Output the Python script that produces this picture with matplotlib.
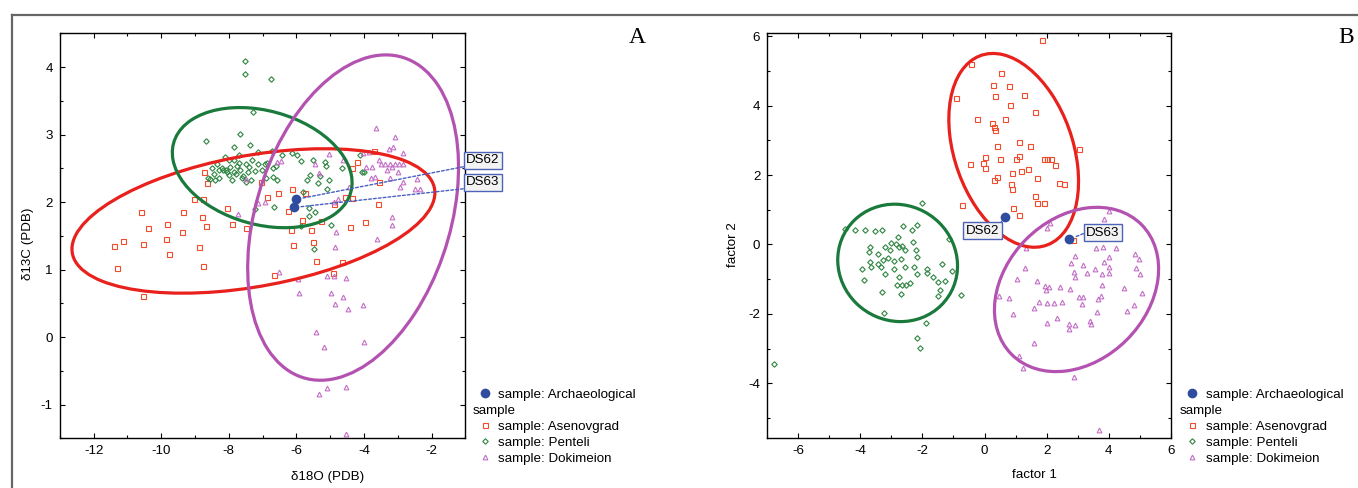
import numpy as np
import matplotlib
matplotlib.use('Agg')
import matplotlib.pyplot as plt
import matplotlib.transforms as mtransforms
from matplotlib.patches import Ellipse
from matplotlib.lines import Line2D
from matplotlib.ticker import MultipleLocator

plt.rcParams['font.family'] = ['Liberation Sans', 'DejaVu Sans']
plt.rcParams['axes.unicode_minus'] = False

# --- Panel A: isotopes (d18O, d13C) ---
a_ase = np.array([
    (-11.41, 1.35), (-11.13, 1.43), (-11.31, 1.02), (-10.59, 1.85), (-10.53, 0.61), (-10.39, 1.62),
    (-10.55, 1.38), (-9.83, 1.67), (-9.78, 1.23), (-9.87, 1.46), (-9.39, 1.56), (-9.34, 1.86),
    (-9.03, 2.04), (-8.75, 2.04), (-8.89, 1.34), (-8.80, 1.78), (-8.67, 1.65), (-8.77, 1.05),
    (-8.72, 2.45), (-8.63, 2.28), (-8.05, 1.91), (-7.89, 1.67), (-7.49, 1.62), (-7.04, 2.30),
    (-6.86, 2.08), (-6.54, 2.14), (-6.65, 0.92), (-6.25, 1.87), (-6.16, 1.59), (-6.13, 2.20),
    (-6.11, 1.37), (-5.83, 1.74), (-5.73, 2.13), (-5.56, 1.59), (-5.51, 1.41), (-5.42, 1.13),
    (-4.92, 0.95), (-4.88, 1.97), (-4.66, 1.11), (-4.55, 2.08), (-4.40, 1.63), (-4.36, 2.06),
    (-4.34, 2.51), (-4.21, 2.60), (-3.97, 1.71), (-3.71, 2.75), (-3.59, 1.97), (-3.54, 2.30),
    (-5.28, 1.72)])
a_pen = np.array([
    (-7.53, 4.09), (-7.53, 3.89), (-6.76, 3.83), (-7.27, 3.33), (-7.66, 3.01), (-8.66, 2.90),
    (-7.85, 2.82), (-7.36, 2.85), (-7.69, 2.69), (-8.11, 2.67), (-7.14, 2.74), (-6.73, 2.75),
    (-6.14, 2.73), (-5.97, 2.69), (-7.98, 2.62), (-7.49, 2.57), (-8.36, 2.56), (-8.49, 2.51),
    (-8.17, 2.47), (-8.04, 2.44), (-7.75, 2.54), (-7.66, 2.47), (-7.78, 2.41), (-7.91, 2.33),
    (-7.85, 2.45), (-8.30, 2.47), (-8.62, 2.35), (-8.56, 2.34), (-8.43, 2.42), (-7.62, 2.35),
    (-7.44, 2.44), (-7.21, 2.46), (-7.12, 2.57), (-7.01, 2.47), (-6.88, 2.58), (-6.69, 2.51),
    (-6.61, 2.54), (-6.56, 2.33), (-6.43, 2.69), (-5.86, 2.61), (-5.51, 2.62), (-5.30, 2.39),
    (-5.59, 2.40), (-5.69, 2.33), (-5.15, 2.59), (-5.12, 2.53), (-5.02, 2.33), (-4.66, 2.50),
    (-4.12, 2.70), (-4.06, 2.44), (-3.99, 2.45), (-5.10, 2.20), (-5.64, 1.91), (-5.46, 1.86),
    (-5.62, 1.79), (-6.65, 1.92), (-7.22, 1.89), (-4.96, 1.66), (-5.47, 1.30), (-5.86, 1.64),
    (-6.69, 2.37), (-6.92, 2.57), (-8.07, 2.47), (-7.33, 2.33), (-8.30, 2.35), (-8.20, 2.50),
    (-7.95, 2.52), (-7.70, 2.58), (-7.58, 2.38), (-7.40, 2.52), (-8.00, 2.40), (-7.85, 2.62),
    (-7.30, 2.62), (-8.40, 2.33), (-7.50, 2.30), (-6.90, 2.35), (-5.80, 2.15), (-5.35, 2.28)])
a_dok = np.array([
    (-3.63, 3.09), (-3.08, 2.97), (-3.13, 2.82), (-3.26, 2.78), (-2.84, 2.72), (-4.02, 2.72),
    (-5.02, 2.71), (-4.63, 2.62), (-5.44, 2.56), (-6.46, 2.61), (-6.56, 2.59), (-7.49, 2.34),
    (-3.76, 2.52), (-3.93, 2.52), (-3.48, 2.57), (-3.39, 2.57), (-3.22, 2.57), (-3.07, 2.56),
    (-2.96, 2.57), (-2.84, 2.56), (-3.31, 2.47), (-3.16, 2.52), (-3.79, 2.35), (-3.67, 2.37),
    (-3.22, 2.35), (-2.99, 2.45), (-2.84, 2.30), (-2.42, 2.34), (-2.94, 2.23), (-2.49, 2.19),
    (-2.33, 2.19), (-5.34, 2.43), (-4.44, 2.23), (-4.76, 2.04), (-4.89, 2.00), (-6.92, 2.00),
    (-7.12, 1.99), (-7.72, 1.83), (-3.16, 1.78), (-3.18, 1.66), (-3.61, 1.45), (-4.83, 1.56),
    (-4.85, 1.33), (-6.52, 0.97), (-5.95, 0.86), (-5.08, 0.91), (-4.89, 0.90), (-4.54, 0.88),
    (-5.92, 0.65), (-4.96, 0.65), (-4.63, 0.59), (-4.87, 0.49), (-4.47, 0.42), (-4.03, 0.48),
    (-5.43, 0.07), (-5.17, -0.15), (-4.01, -0.07), (-5.08, -0.75), (-4.54, -0.74), (-5.32, -0.84),
    (-4.54, -1.44), (-3.86, 2.74), (-3.54, 2.62)])
a_arch = np.array([(-6.01, 2.04), (-6.07, 1.92)])
a_arch_names = ['DS62', 'DS63']
a_label_pos = [(-0.48, 2.62), (-0.48, 2.29)]
# ellipse: centre x, centre y, half-extent x, half-extent y, correlation
a_ellipses = {'Asenovgrad': (-7.27, 1.72, 5.37, 1.07, 0.39),
              'Penteli': (-7.01, 2.51, 2.66, 0.89, -0.25),
              'Dokimeion': (-4.32, 1.77, 3.12, 2.41, 0.31)}

# --- Panel B: factor scores ---
b_ase = np.array([
    (1.84, 5.90), (-0.43, 5.21), (0.54, 4.94), (0.26, 4.59), (0.78, 4.56), (-0.91, 4.21),
    (0.33, 4.28), (1.28, 4.30), (0.82, 4.03), (1.63, 3.82), (-0.25, 3.61), (0.67, 3.61),
    (0.24, 3.50), (0.31, 3.37), (0.33, 3.31), (1.12, 2.94), (1.45, 2.84), (0.39, 2.84),
    (3.06, 2.74), (0.03, 2.51), (1.10, 2.56), (0.49, 2.45), (1.03, 2.45), (1.91, 2.45),
    (2.02, 2.45), (2.15, 2.45), (-0.04, 2.36), (-0.46, 2.32), (2.26, 2.29), (0.01, 2.21),
    (1.41, 2.16), (1.16, 2.11), (0.88, 2.07), (0.40, 1.95), (0.32, 1.85), (1.69, 1.90),
    (0.86, 1.73), (0.88, 1.60), (2.41, 1.76), (2.57, 1.73), (1.63, 1.40), (1.69, 1.20),
    (1.91, 1.20), (-0.71, 1.13), (0.93, 1.06), (1.10, 0.85), (2.86, 0.13)])
b_pen = np.array([
    (-6.77, -3.45), (-2.00, 1.20), (-4.48, 0.46), (-4.16, 0.43), (-3.84, 0.43), (-3.52, 0.40),
    (-3.29, 0.41), (-2.62, 0.53), (-2.34, 0.43), (-2.16, 0.56), (-2.79, 0.22), (-3.01, 0.05),
    (-2.86, 0.00), (-2.67, -0.05), (-2.30, 0.07), (-3.20, -0.08), (-3.70, -0.07), (-3.71, -0.23),
    (-3.42, -0.26), (-3.04, -0.16), (-2.76, -0.07), (-2.55, -0.16), (-2.20, -0.16), (-2.16, -0.35),
    (-3.11, -0.40), (-2.93, -0.47), (-2.69, -0.41), (-3.70, -0.50), (-3.43, -0.56), (-3.28, -0.45),
    (-3.95, -0.72), (-3.67, -0.64), (-3.35, -0.64), (-2.93, -0.72), (-2.55, -0.64), (-2.27, -0.64),
    (-1.86, -0.72), (-1.37, -0.55), (-1.05, -0.76), (-3.22, -0.85), (-2.76, -0.95), (-2.18, -0.85),
    (-1.86, -0.83), (-1.67, -0.95), (-3.87, -1.01), (-1.51, -1.07), (-1.27, -1.04), (-2.41, -1.10),
    (-2.83, -1.17), (-2.67, -1.17), (-2.53, -1.17), (-1.44, -1.31), (-3.29, -1.38), (-2.69, -1.43),
    (-1.49, -1.49), (-0.77, -1.44), (-3.25, -1.98), (-1.88, -2.27), (-2.18, -2.68), (-2.09, -2.97),
    (-1.13, 0.15)])
b_dok = np.array([
    (4.00, 0.97), (3.86, 0.73), (2.12, 0.63), (2.01, 0.48), (3.59, -0.09), (3.82, -0.07),
    (4.24, -0.11), (1.33, -0.11), (2.92, -0.32), (4.00, -0.35), (4.84, -0.28), (4.98, -0.43),
    (3.86, -0.50), (2.78, -0.53), (3.17, -0.59), (3.56, -0.72), (4.00, -0.66), (4.87, -0.69),
    (1.31, -0.67), (2.89, -0.78), (3.31, -0.83), (3.80, -0.85), (4.02, -0.83), (5.02, -0.86),
    (1.05, -0.99), (2.92, -0.95), (1.70, -1.04), (3.80, -1.17), (4.49, -1.24), (1.95, -1.20),
    (2.09, -1.22), (1.98, -1.31), (2.44, -1.22), (2.75, -1.29), (3.76, -1.49), (5.09, -1.39),
    (0.47, -1.49), (0.80, -1.53), (3.06, -1.50), (3.17, -1.50), (3.66, -1.57), (3.13, -1.70),
    (1.77, -1.65), (2.02, -1.68), (2.23, -1.68), (2.51, -1.67), (1.60, -1.84), (3.61, -1.94),
    (4.60, -1.92), (4.81, -1.75), (0.91, -2.01), (2.33, -2.11), (2.02, -2.25), (3.39, -2.20),
    (3.42, -2.30), (2.71, -2.30), (2.92, -2.32), (2.71, -2.44), (1.60, -2.85), (1.10, -3.21),
    (1.24, -3.57), (2.89, -3.81), (3.70, -5.34)])
b_arch = np.array([(0.66, 0.80), (2.73, 0.15)])
b_arch_names = ['DS62', 'DS63']
b_label_pos = [(-0.065, 0.40), (3.82, 0.345)]
b_ellipses = {'Asenovgrad': (0.94, 2.71, 2.09, 2.79, -0.32),
              'Penteli': (-2.80, -0.53, 1.93, 1.69, -0.05),
              'Dokimeion': (2.965, -1.295, 2.645, 2.365, 0.25)}

# --- Styles ---
FS = 9.6
marker_style = {
    'Archaeological': dict(marker='o', ms=7, mfc='#2f4c9f', mec='#2f4c9f', mew=0),
    'Asenovgrad': dict(marker='s', ms=3.6, mfc='none', mec='#ee4d2e', mew=0.8),
    'Penteli': dict(marker='D', ms=2.8, mfc='none', mec='#2e8540', mew=0.8),
    'Dokimeion': dict(marker='^', ms=3.4, mfc='none', mec='#c46fc6', mew=0.8),
}
ellipse_color = {'Asenovgrad': '#e8211d', 'Penteli': '#1a7a3c', 'Dokimeion': '#b352b0'}


def draw_ellipse(ax, params, color):
    cx, cy, sx, sy, r = params
    e = Ellipse((0, 0), width=2 * np.sqrt(1 + r), height=2 * np.sqrt(1 - r),
                facecolor='none', edgecolor=color, lw=2.3, zorder=3)
    tr = mtransforms.Affine2D().rotate_deg(45).scale(sx, sy).translate(cx, cy)
    e.set_transform(tr + ax.transData)
    ax.add_patch(e)


def plot_panel(ax, groups, ellipses, arch, names, label_pos, arrow_rel):
    handles = {}
    for name, pts in groups.items():
        h, = ax.plot(pts[:, 0], pts[:, 1], linestyle='none', zorder=2, **marker_style[name])
        handles[name] = h
    for name, par in ellipses.items():
        draw_ellipse(ax, par, ellipse_color[name])
    h, = ax.plot(arch[:, 0], arch[:, 1], linestyle='none', zorder=5, **marker_style['Archaeological'])
    handles['Archaeological'] = h
    for (x, y), nm, pos, rel in zip(arch, names, label_pos, arrow_rel):
        ax.annotate(nm, xy=(x, y), xytext=pos, textcoords='data', ha='center', va='center',
                    fontsize=FS, zorder=6, annotation_clip=False,
                    bbox=dict(boxstyle='square,pad=0.18', fc='#f3f3f3', ec='#4d63b8', lw=1.0),
                    arrowprops=dict(arrowstyle='-', ls=(0, (2, 1.5)), color='#4a5fc0', lw=1.0,
                                    relpos=rel, shrinkA=0, shrinkB=4))
    ax.tick_params(which='both', direction='in', top=True, right=True, labelsize=FS)
    ax.tick_params(which='major', length=3.5, width=0.8)
    ax.tick_params(which='minor', length=2.5, width=0.8)
    ax.tick_params(axis='x', pad=4.5)
    ax.tick_params(axis='y', pad=5)
    for s in ax.spines.values():
        s.set_linewidth(1.0)
    return handles


def add_legend(fig, ax, handles, left_px, top_px):
    order = ['Archaeological', None, 'Asenovgrad', 'Penteli', 'Dokimeion']
    hs, ls = [], []
    for o in order:
        if o is None:
            hs.append(Line2D([], [], linestyle='none'))
            ls.append('sample')
        else:
            hs.append(handles[o])
            ls.append('sample: ' + o)
    leg = ax.legend(hs, ls, loc='upper left', bbox_to_anchor=(left_px / W, 1 - top_px / H),
                    bbox_transform=fig.transFigure, frameon=False, fontsize=FS, borderpad=0,
                    borderaxespad=0, handlelength=0.6, handletextpad=0.75, labelspacing=0.27)
    t = leg.get_texts()[1]
    t.set_transform(t.get_transform() + mtransforms.ScaledTranslation(-26 / 100, 0, fig.dpi_scale_trans))
    return leg


W, H = 1358, 488
fig = plt.figure(figsize=(W / 100, H / 100), dpi=100)

# Panel A
axA = fig.add_axes([59.8 / W, 1 - 438.3 / H, 405.5 / W, 405 / H])
hA = plot_panel(axA, {'Asenovgrad': a_ase, 'Penteli': a_pen, 'Dokimeion': a_dok},
                a_ellipses, a_arch, a_arch_names, a_label_pos, [(0, 0), (0, 0)])
axA.set_xlim(-13, -1)
axA.set_ylim(-1.5, 4.5)
axA.set_xticks([-12, -10, -8, -6, -4, -2])
axA.set_yticks([-1, 0, 1, 2, 3, 4])
axA.xaxis.set_minor_locator(MultipleLocator(1))
axA.yaxis.set_minor_locator(MultipleLocator(0.5))
axA.set_xlabel('δ18O (PDB)', fontsize=FS, va='center')
axA.xaxis.set_label_coords(0.661, -0.095)
axA.set_ylabel('δ13C (PDB)', fontsize=FS, va='center')
axA.yaxis.set_label_coords(-0.078, 0.48)
add_legend(fig, axA, hA, 480.5, 388.5)

# Panel B
axB = fig.add_axes([767.3 / W, 1 - 438.3 / H, 403.4 / W, 405 / H])
hB = plot_panel(axB, {'Asenovgrad': b_ase, 'Penteli': b_pen, 'Dokimeion': b_dok},
                b_ellipses, b_arch, b_arch_names, b_label_pos, [(1, 1), (0, 0.5)])
axB.set_xlim(-7, 6)
axB.set_ylim(-5.58, 6.08)
axB.set_xticks([-6, -4, -2, 0, 2, 4, 6])
axB.set_yticks([-4, -2, 0, 2, 4, 6])
axB.xaxis.set_minor_locator(MultipleLocator(1))
axB.yaxis.set_minor_locator(MultipleLocator(1))
axB.set_xlabel('factor 1', fontsize=FS, va='center')
axB.xaxis.set_label_coords(0.663, -0.09)
axB.set_ylabel('factor 2', fontsize=FS, va='center')
axB.yaxis.set_label_coords(-0.085, 0.477)
add_legend(fig, axB, hB, 1187.7, 388.5)

# Panel letters and outer frame
fig.text(637.5 / W, 1 - 43 / H, 'A', fontsize=17, family='Liberation Serif', ha='center', va='baseline')
fig.text(1346 / W, 1 - 43 / H, 'B', fontsize=17, family='Liberation Serif', ha='center', va='baseline')
fig.add_artist(Line2D([12 / W, 1], [1 - 15.3 / H, 1 - 15.3 / H], color='#666666', lw=1.6,
                      transform=fig.transFigure))
fig.add_artist(Line2D([12 / W, 12 / W], [0, 1 - 15.3 / H], color='#666666', lw=1.6,
                      transform=fig.transFigure))

fig.savefig('out.png', dpi=100)
